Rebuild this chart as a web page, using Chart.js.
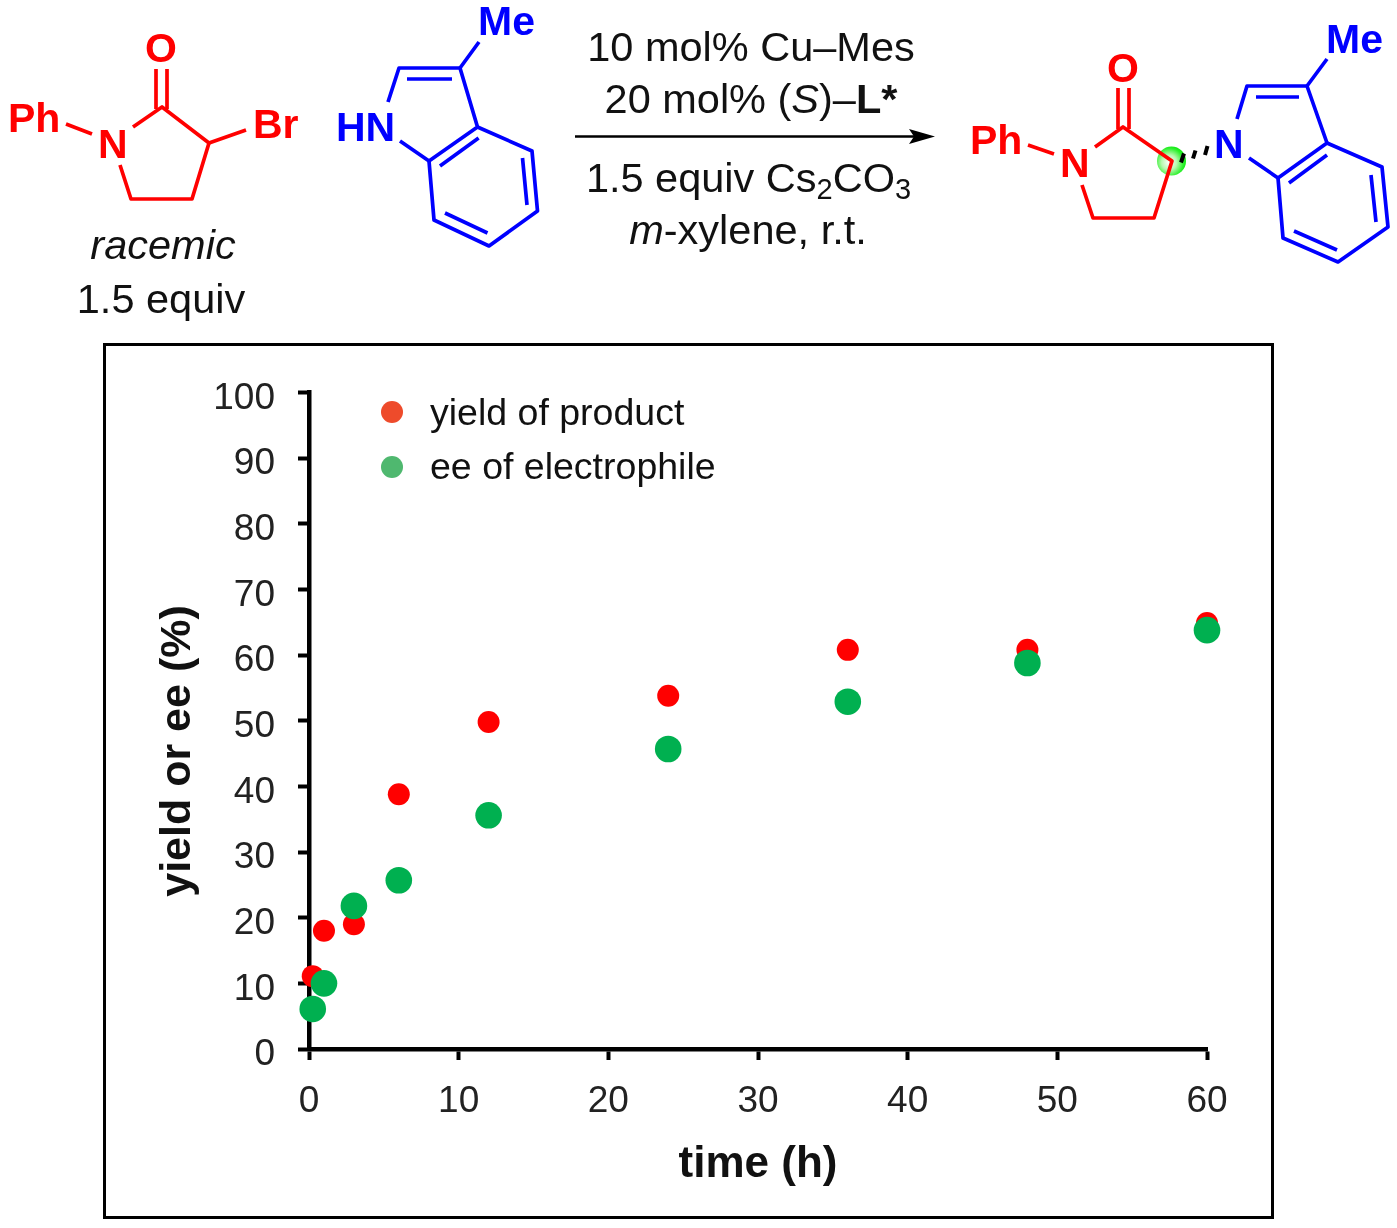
<!DOCTYPE html>
<html lang="en">
<head>
<meta charset="UTF-8">
<title>Yield and ee over time</title>
<script src="https://cdn.jsdelivr.net/npm/chart.js"></script>
<style>
    html, body { margin: 0; padding: 0; background: #fff; }
    #wrap { position: relative; width: 1397px; height: 1228px; overflow: hidden; }
    #chart { position: absolute; left: 0; top: 0; }
    #frame { position: absolute; left: 103px; top: 343px; width: 1165px; height: 870px; border: 3px solid #000; }
    #scheme { position: absolute; left: 0; top: 0; }
    #scheme text { font-family: "Liberation Sans", Arial, sans-serif; }
    .red { stroke: #f00; fill: none; stroke-width: 3.7; stroke-linejoin: round; }
    .blue { stroke: #00f; fill: none; stroke-width: 3.7; stroke-linejoin: round; }
    .rl { fill: #f00; font-weight: bold; font-size: 41px; }
    .bl { fill: #00f; font-weight: bold; font-size: 41px; }
    .tx { fill: #111; font-size: 41.500px; }
</style>
</head>
<body>
<div id="wrap">
    <canvas id="chart" width="1397" height="1228"></canvas>
    <div id="frame"></div>
    <svg id="scheme" width="1397" height="1228" xmlns="http://www.w3.org/2000/svg">
        <defs>
            <radialGradient id="glow" cx="42%" cy="55%" r="58%">
                <stop offset="0%" stop-color="#ffffff"/>
                <stop offset="45%" stop-color="#b8f8b0"/>
                <stop offset="85%" stop-color="#2cf02c"/>
                <stop offset="100%" stop-color="#10e810"/>
            </radialGradient>
        </defs>

        <!-- Bromolactam -->
        <path class="red" d="M133 127 L162 107 L209 143 L192 199 L131 199 L120 165"/>
        <path class="red" d="M156 69 V109 M167 69 V109 M66 124 L92 134 M209 143 L246 130"/>
        <text class="rl" x="8" y="132">Ph</text>
        <text class="rl" x="98" y="158">N</text>
        <text class="rl" x="145" y="62">O</text>
        <text class="rl" x="253" y="138">Br</text>
        <text class="tx" x="163" y="259" text-anchor="middle" font-style="italic">racemic</text>
        <text class="tx" x="161" y="313" text-anchor="middle">1.5 equiv</text>

        <!-- 3-methylindole -->
        <path class="blue" d="M388 102 L399 68 L460 68 L477.5 127 L429 161 L400 141"/>
        <path class="blue" d="M477.5 127 L532 151 L537.5 211 L489 246 L434 220 L429 161"/>
        <path class="blue" d="M407 79 H452 M478.6 138 L440 166 M522.5 158 L527 205 M445 213 L487.5 233 M460 68 L479 42"/>
        <text class="bl" x="478" y="35">Me</text>
        <text class="bl" x="336" y="141">HN</text>

        <!-- Conditions -->
        <text class="tx" x="751" y="61" text-anchor="middle">10 mol% Cu–Mes</text>
        <text class="tx" x="751" y="113" text-anchor="middle">20 mol% (<tspan font-style="italic">S</tspan>)–<tspan font-weight="bold">L*</tspan></text>
        <path d="M575 136.500 H920" stroke="#000" stroke-width="2.500" fill="none"/>
        <path d="M935 136.500 L909 129 L914 136.500 L909 144 Z" fill="#000"/>
        <text class="tx" x="748.500" y="192" text-anchor="middle">1.5 equiv Cs<tspan font-size="29" dy="7">2</tspan><tspan dy="-7">CO</tspan><tspan font-size="29" dy="7">3</tspan></text>
        <text class="tx" x="748" y="244" text-anchor="middle"><tspan font-style="italic">m</tspan>-xylene, r.t.</text>

        <!-- Product -->
        <circle cx="1171.500" cy="161" r="14.500" fill="url(#glow)"/>
        <path class="red" d="M1095 147 L1123 127 L1172 161 L1154 218 L1093 218 L1082 185"/>
        <path class="red" d="M1118 88 V129 M1129 88 V129 M1028 145 L1054 154"/>
        <path d="M1181 162.500 L1184 153.500 M1193 158.500 L1195.500 150.500 M1205 155 L1207.500 146" stroke="#000" stroke-width="4" fill="none"/>
        <text class="rl" x="970" y="154">Ph</text>
        <text class="rl" x="1060" y="177">N</text>
        <text class="rl" x="1107" y="82">O</text>
        <path class="blue" d="M1237 119 L1247 86 L1307 86 L1327 143 L1278 178 L1249 158"/>
        <path class="blue" d="M1327 143 L1382 167 L1388 227 L1338 262 L1283 238 L1278 178"/>
        <path class="blue" d="M1256 97 H1299 M1327 155 L1289 183 M1371 175 L1376 222 M1294 231 L1337 250 M1307 86 L1327 59"/>
        <text class="bl" x="1214" y="158">N</text>
        <text class="bl" x="1326" y="53">Me</text>

        <!-- Axis title and legend -->
        <text x="0" y="0" id="yTitle" transform="translate(190 751) rotate(-90)" text-anchor="middle"
              font-weight="bold" font-size="43" fill="#111"></text>
        <g id="legend"></g>
    </svg>
</div>

<script>
    const timeHours = [0.25, 1, 3, 6, 12, 24, 36, 48, 60];
    const yieldOfProduct = [11.1, 18, 19, 38.8, 49.8, 53.8, 60.8, 60.8, 64.9];
    const eeOfElectrophile = [6.1, 10, 21.8, 25.7, 35.6, 45.7, 52.9, 58.8, 63.8];
    const seriesNames = ['yield of product', 'ee of electrophile'];
    const legendColors = ['#ee4b2b', '#4fb86f'];
    const yAxisTitle = 'yield or ee (%)';
    const xAxisTitle = 'time (h)';

    const toPoints = values => values.map((v, i) => ({ x: timeHours[i], y: v }));

    new Chart(document.getElementById('chart'), {
        type: 'scatter',
        data: {
            datasets: [{
                label: seriesNames[0],
                data: toPoints(yieldOfProduct),
                backgroundColor: '#ff0000',
                pointRadius: 11,
                pointBorderWidth: 0,
                clip: false,
                order: 1
            }, {
                label: seriesNames[1],
                data: toPoints(eeOfElectrophile),
                backgroundColor: '#00b050',
                pointRadius: 13.3,
                pointBorderWidth: 0,
                clip: false,
                order: 0
            }]
        },
        options: {
            responsive: false,
            animation: false,
            layout: { padding: { left: 104, right: 190, top: 392.5, bottom: 0 } },
            plugins: { legend: { display: false }, tooltip: { enabled: false } },
            scales: {
                x: {
                    type: 'linear',
                    min: 0,
                    max: 60,
                    afterFit: s => { s.height = 179; },
                    border: { color: '#000', width: 4.5 },
                    grid: { drawOnChartArea: false, color: '#000', tickColor: '#000', tickLength: 11, tickWidth: 4 },
                    ticks: {
                        stepSize: 10,
                        maxRotation: 0,
                        padding: 20,
                        color: '#222',
                        font: { family: '"Liberation Sans", Arial, sans-serif', size: 37 }
                    },
                    title: {
                        display: true,
                        text: xAxisTitle,
                        color: '#111',
                        padding: { top: 0, bottom: 37 },
                        font: { family: '"Liberation Sans", Arial, sans-serif', size: 44, weight: 'bold' }
                    }
                },
                y: {
                    min: 0,
                    max: 100,
                    afterFit: s => { s.width = 205; },
                    border: { color: '#000', width: 4.5 },
                    grid: { drawOnChartArea: false, color: '#000', tickColor: '#000', tickLength: 11, tickWidth: 4 },
                    ticks: {
                        stepSize: 10,
                        padding: 23,
                        labelOffset: 6,
                        color: '#222',
                        font: { family: '"Liberation Sans", Arial, sans-serif', size: 37 }
                    }
                }
            }
        }
    });

    // Title sits off-centre on the axis, so it lives in the overlay with the legend
    document.getElementById('yTitle').textContent = yAxisTitle;

    const legend = document.getElementById('legend');
    const svgNs = 'http://www.w3.org/2000/svg';
    seriesNames.forEach((name, i) => {
        const dot = document.createElementNS(svgNs, 'circle');
        dot.setAttribute('cx', 392);
        dot.setAttribute('cy', 412 + i * 55);
        dot.setAttribute('r', 11);
        dot.setAttribute('fill', legendColors[i]);
        legend.appendChild(dot);
        const label = document.createElementNS(svgNs, 'text');
        label.setAttribute('x', 430);
        label.setAttribute('y', 425 + i * 54);
        label.setAttribute('font-size', 37.5);
        label.setAttribute('fill', '#111');
        label.textContent = name;
        legend.appendChild(label);
    });
</script>
</body>
</html>
